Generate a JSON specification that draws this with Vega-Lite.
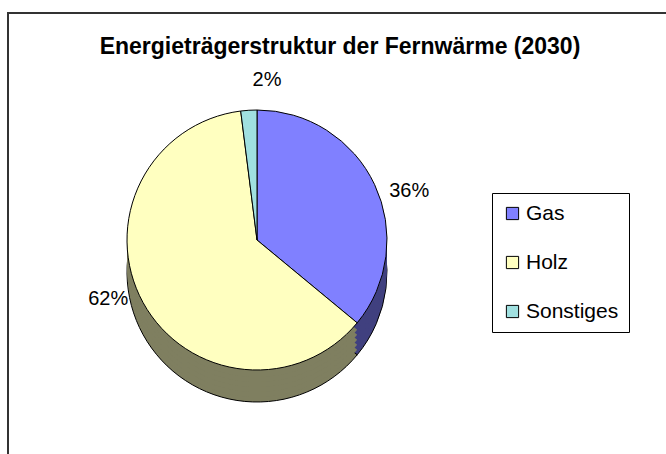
{
  "$schema": "https://vega.github.io/schema/vega-lite/v6.json",
  "width": 680,
  "height": 460,
  "autosize": {"type": "none"},
  "padding": {"left": 8, "top": 13, "right": 0, "bottom": 0},
  "background": "white",
  "view": {"stroke": "#333333", "strokeWidth": 2, "fill": "white"},
  "config": {
    "view": {"stroke": "#333333", "strokeWidth": 2},
    "font": "Liberation Sans"
  },
  "title": {
    "text": "Energieträgerstruktur der Fernwärme (2030)",
    "fontSize": 23,
    "fontWeight": "bold",
    "font": "Liberation Sans",
    "color": "black",
    "anchor": "middle",
    "frame": "group",
    "orient": "top",
    "offset": -64,
    "baseline": "alphabetic",
    "dx": -8
  },
  "data": {
    "values": [
      {"Traeger": "Gas", "Anteil": 0.36},
      {"Traeger": "Holz", "Anteil": 0.62},
      {"Traeger": "Sonstiges", "Anteil": 0.02}
    ]
  },
  "encoding": {
    "theta": {"field": "Anteil", "type": "quantitative", "stack": true}
  },
  "layer": [
    {
      "mark": {"type": "arc", "radius": 130, "xOffset": -91, "yOffset": 29, "stroke": "black", "strokeWidth": 1},
      "encoding": {"color": {"field": "Traeger", "type": "nominal", "legend": null, "scale": {"domain": ["Gas", "Holz", "Sonstiges"], "range": ["#40407F", "#7F7F60", "#507070"]}}}
    },
    {
      "mark": {"type": "arc", "radius": 130, "xOffset": -91, "yOffset": 24},
      "encoding": {"color": {"field": "Traeger", "type": "nominal", "legend": null, "scale": {"domain": ["Gas", "Holz", "Sonstiges"], "range": ["#40407F", "#7F7F60", "#507070"]}}}
    },
    {
      "mark": {"type": "arc", "radius": 130, "xOffset": -91, "yOffset": 19},
      "encoding": {"color": {"field": "Traeger", "type": "nominal", "legend": null, "scale": {"domain": ["Gas", "Holz", "Sonstiges"], "range": ["#40407F", "#7F7F60", "#507070"]}}}
    },
    {
      "mark": {"type": "arc", "radius": 130, "xOffset": -91, "yOffset": 14},
      "encoding": {"color": {"field": "Traeger", "type": "nominal", "legend": null, "scale": {"domain": ["Gas", "Holz", "Sonstiges"], "range": ["#40407F", "#7F7F60", "#507070"]}}}
    },
    {
      "mark": {"type": "arc", "radius": 130, "xOffset": -91, "yOffset": 9},
      "encoding": {"color": {"field": "Traeger", "type": "nominal", "legend": null, "scale": {"domain": ["Gas", "Holz", "Sonstiges"], "range": ["#40407F", "#7F7F60", "#507070"]}}}
    },
    {
      "mark": {"type": "arc", "radius": 130, "xOffset": -91, "yOffset": 4},
      "encoding": {"color": {"field": "Traeger", "type": "nominal", "legend": null, "scale": {"domain": ["Gas", "Holz", "Sonstiges"], "range": ["#40407F", "#7F7F60", "#507070"]}}}
    },
    {
      "mark": {"type": "arc", "radius": 130, "xOffset": -91, "yOffset": -3, "stroke": "black", "strokeWidth": 1},
      "encoding": {
        "color": {
          "field": "Traeger",
          "type": "nominal",
          "scale": {"domain": ["Gas", "Holz", "Sonstiges"], "range": ["#8080FF", "#FFFFC0", "#A0E0E0"]},
          "legend": {
            "orient": "none",
            "legendX": 484,
            "legendY": 180,
            "title": null,
            "strokeColor": "black",
            "fillColor": "white",
            "padding": 10,
            "rowPadding": 27,
            "symbolType": "square",
            "symbolSize": 150,
            "symbolStrokeColor": "black",
            "symbolStrokeWidth": 1,
            "symbolOpacity": 1,
            "labelFontSize": 21,
            "labelFont": "Liberation Sans",
            "labelColor": "black",
            "labelOffset": 3
          }
        }
      }
    },
    {
      "mark": {"type": "text", "radius": 160, "xOffset": -91, "yOffset": -3, "fontSize": 20, "font": "Liberation Sans", "color": "black"},
      "encoding": {
        "detail": {"field": "Traeger", "type": "nominal"},
        "text": {"field": "Anteil", "type": "quantitative", "format": ".0%"}
      }
    }
  ],
  "resolve": {"scale": {"color": "independent"}}
}
